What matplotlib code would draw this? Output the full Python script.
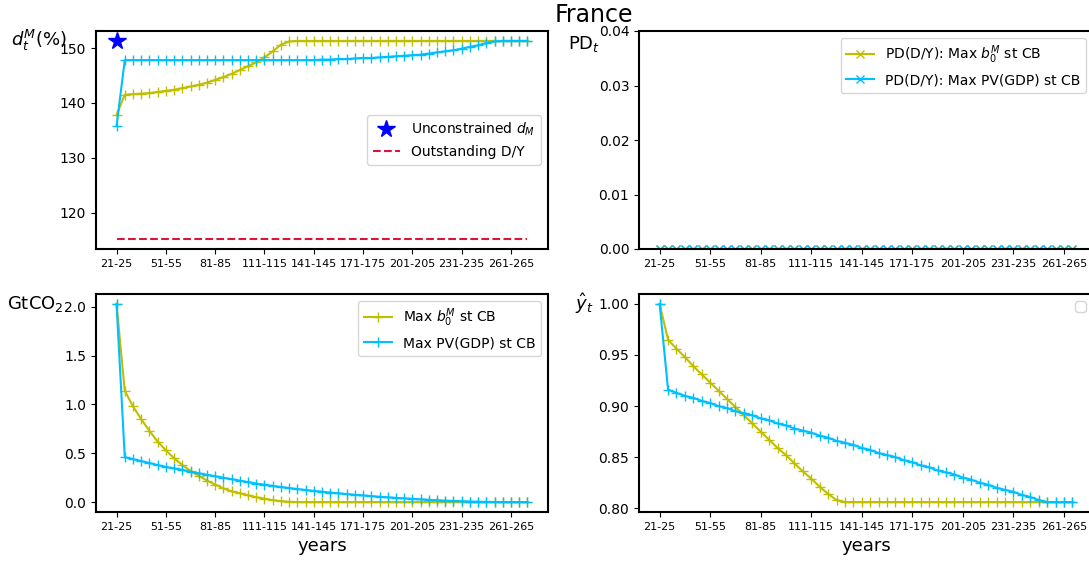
import matplotlib
matplotlib.use("Agg")
import matplotlib.pyplot as plt
import numpy as np

periods = ["21-25", "26-30", "31-35", "36-40", "41-45", "46-50", "51-55", "56-60", "61-65", "66-70",
           "71-75", "76-80", "81-85", "86-90", "91-95", "96-100", "101-105", "106-110", "111-115", "116-120",
           "121-125", "126-130", "131-135", "136-140", "141-145", "146-150", "151-155", "156-160", "161-165", "166-170",
           "171-175", "176-180", "181-185", "186-190", "191-195", "196-200", "201-205", "206-210", "211-215", "216-220",
           "221-225", "226-230", "231-235", "236-240", "241-245", "246-250", "251-255", "256-260", "261-265", "266-270",
           "271-275"]

# Debt ratio d_t^M (%)
dM_b0 = [137.8, 141.5, 141.6, 141.7, 141.8, 142.0, 142.2, 142.4, 142.7, 143.0,
         143.3, 143.7, 144.2, 144.7, 145.3, 146.0, 146.7, 147.4, 148.3, 149.4,
         150.6, 151.2, 151.3, 151.3, 151.3, 151.3, 151.3, 151.3, 151.3, 151.3,
         151.3, 151.3, 151.3, 151.3, 151.3, 151.3, 151.3, 151.3, 151.3, 151.3,
         151.3, 151.3, 151.3, 151.3, 151.3, 151.3, 151.3, 151.3, 151.3, 151.3, 151.3]
dM_pv = [135.8, 147.8, 147.8, 147.8, 147.8, 147.8, 147.8, 147.8, 147.8, 147.8,
         147.8, 147.8, 147.8, 147.8, 147.8, 147.8, 147.8, 147.8, 147.8, 147.8,
         147.8, 147.8, 147.8, 147.8, 147.8, 147.9, 147.9, 148.0, 148.0, 148.1,
         148.2, 148.2, 148.3, 148.4, 148.5, 148.6, 148.7, 148.8, 149.0, 149.2,
         149.4, 149.6, 149.9, 150.2, 150.5, 150.9, 151.2, 151.3, 151.3, 151.3, 151.3]
unconstrained_dM = 151.3
outstanding_DY = 115.2

# Default probability
pd_b0 = [0.0] * 50
pd_pv = [0.0] * 50

# Emissions (GtCO2)
em_b0 = [2.03, 1.14, 0.98, 0.85, 0.73, 0.62, 0.53, 0.45, 0.38, 0.32,
         0.27, 0.22, 0.18, 0.14, 0.11, 0.09, 0.07, 0.05, 0.035, 0.02,
         0.01, 0.003, 0.0, 0.0, 0.0, 0.0, 0.0, 0.0, 0.0, 0.0,
         0.0, 0.0, 0.0, 0.0, 0.0, 0.0, 0.0, 0.0, 0.0, 0.0,
         0.0, 0.0, 0.0, 0.0, 0.0, 0.0, 0.0, 0.0, 0.0, 0.0, 0.0]
em_pv = [2.03, 0.46, 0.44, 0.42, 0.40, 0.38, 0.36, 0.345, 0.33, 0.31,
         0.295, 0.28, 0.265, 0.25, 0.235, 0.22, 0.205, 0.19, 0.178, 0.166,
         0.155, 0.144, 0.134, 0.124, 0.115, 0.106, 0.098, 0.09, 0.082, 0.075,
         0.068, 0.061, 0.055, 0.049, 0.043, 0.038, 0.033, 0.028, 0.023, 0.019,
         0.015, 0.012, 0.009, 0.006, 0.004, 0.002, 0.001, 0.0, 0.0, 0.0, 0.0]

# Output y_hat
y_b0 = [1.0, 0.965, 0.956, 0.948, 0.939, 0.931, 0.923, 0.915, 0.907, 0.899,
        0.891, 0.883, 0.875, 0.867, 0.859, 0.852, 0.844, 0.836, 0.829, 0.821,
        0.814, 0.808, 0.806, 0.806, 0.806, 0.806, 0.806, 0.806, 0.806, 0.806,
        0.806, 0.806, 0.806, 0.806, 0.806, 0.806, 0.806, 0.806, 0.806, 0.806,
        0.806, 0.806, 0.806, 0.806, 0.806, 0.806, 0.806, 0.806, 0.806, 0.806]
y_pv = [1.0, 0.916, 0.913, 0.910, 0.908, 0.905, 0.903, 0.900, 0.898, 0.895,
        0.893, 0.891, 0.888, 0.886, 0.883, 0.881, 0.878, 0.876, 0.874, 0.871,
        0.869, 0.866, 0.864, 0.862, 0.859, 0.857, 0.854, 0.852, 0.850, 0.847,
        0.845, 0.842, 0.840, 0.837, 0.835, 0.833, 0.830, 0.828, 0.825, 0.823,
        0.820, 0.818, 0.816, 0.813, 0.811, 0.808, 0.806, 0.806, 0.806, 0.806]

C_Y = "#bfbf00"
C_B = "#00bfff"
MS = 6.5

fig = plt.figure(figsize=(10.89, 5.61), dpi=100)
W, H = 1089.0, 561.0
def rect(l, t, w, h):
    return [l / W, (H - t - h) / H, w / W, h / H]

ax1 = fig.add_axes(rect(96, 31, 452, 218))
ax2 = fig.add_axes(rect(639, 31, 454, 218))
ax3 = fig.add_axes(rect(96, 294, 452, 218))
ax4 = fig.add_axes(rect(639, 294, 454, 218))

def set_xt(ax, n):
    x = np.arange(n)
    ax.set_xticks(x[::6])
    ax.set_xticklabels([periods[i] for i in x[::6]], fontsize=8)
    ax.tick_params(axis='y', labelsize=10)
    for s in ax.spines.values():
        s.set_linewidth(1.5)

# Top-left
n1 = len(dM_b0)
x1 = np.arange(n1)
ax1.plot(x1, dM_b0, color=C_Y, marker='+', markersize=MS, lw=1.5)
ax1.plot(x1, dM_pv, color=C_B, marker='+', markersize=MS, lw=1.5)
ax1.plot([0], [unconstrained_dM], linestyle='none', marker='*', color='blue',
         markersize=13, label='Unconstrained $d_M$')
ax1.plot(x1, [outstanding_DY] * n1, color='crimson', linestyle='--', lw=1.5,
         label='Outstanding D/Y')
ax1.legend(loc='center right', fontsize=10)
set_xt(ax1, n1)
ax1.text(-0.127, 0.955, '$d_t^M$(%)', transform=ax1.transAxes, fontsize=13,
         ha='center', va='center')

# Top-right
n2 = len(pd_b0)
x2 = np.arange(n2)
ax2.plot(x2, pd_b0, color=C_Y, marker='x', markersize=6, lw=1.5,
         label='PD(D/Y): Max $b_0^M$ st CB')
ax2.plot(x2, pd_pv, color=C_B, marker='x', markersize=6, lw=1.5,
         label='PD(D/Y): Max PV(GDP) st CB')
ax2.set_ylim(0, 0.04)
ax2.set_yticks([0.0, 0.01, 0.02, 0.03, 0.04])
ax2.legend(loc='upper right', fontsize=10)
set_xt(ax2, n2)
ax2.text(-0.12, 0.94, 'PD$_t$', transform=ax2.transAxes, fontsize=13,
         ha='center', va='center')

# Bottom-left
n3 = len(em_b0)
x3 = np.arange(n3)
ax3.plot(x3, em_b0, color=C_Y, marker='+', markersize=MS, lw=1.5,
         label='Max $b_0^M$ st CB')
ax3.plot(x3, em_pv, color=C_B, marker='+', markersize=MS, lw=1.5,
         label='Max PV(GDP) st CB')
ax3.legend(loc='upper right', fontsize=10)
set_xt(ax3, n3)
ax3.set_xlabel('years', fontsize=13)
ax3.text(-0.135, 0.955, 'GtCO$_2$', transform=ax3.transAxes, fontsize=13,
         ha='center', va='center')

# Bottom-right
n4 = len(y_b0)
x4 = np.arange(n4)
ax4.plot(x4, y_b0, color=C_Y, marker='+', markersize=MS, lw=1.5)
ax4.plot(x4, y_pv, color=C_B, marker='+', markersize=MS, lw=1.5)
ax4.legend(handles=[], labels=[], loc='upper right')
set_xt(ax4, n4)
ax4.set_xlabel('years', fontsize=13)
ax4.text(-0.12, 0.955, r'$\hat{y}_t$', transform=ax4.transAxes, fontsize=13,
         ha='center', va='center')

fig.text(0.545, 0.973, 'France', fontsize=17, ha='center', va='center')

fig.savefig('out.png', dpi=100)
